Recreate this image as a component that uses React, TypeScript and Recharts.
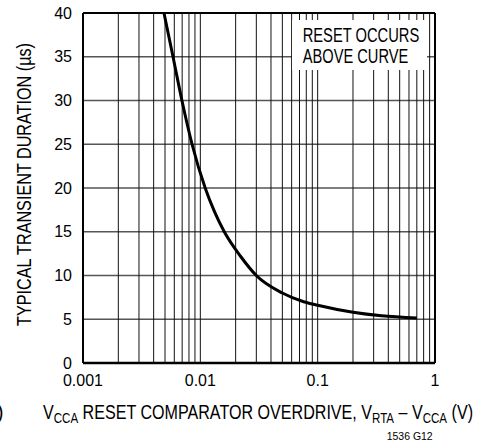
import React from "react";
import {
  LineChart,
  Line,
  XAxis,
  YAxis,
  CartesianGrid,
  ReferenceLine,
} from "recharts";

/* ---------- data ---------- */

const overdrive = [0.0049, 0.00585, 0.00697, 0.0085, 0.011, 0.0132, 0.016, 0.022, 0.03, 0.05, 0.076, 0.1, 0.2, 0.35, 0.7];
const duration = [40, 35, 30, 25, 20, 17.3, 15, 12.2, 10, 8.0, 7.0, 6.6, 5.8, 5.4, 5.15];

const xDecades = [0.001, 0.01, 0.1, 1];
const xGridTicks = [
  0.001, 0.002, 0.003, 0.004, 0.005, 0.006, 0.007, 0.008, 0.009,
  0.01, 0.02, 0.03, 0.04, 0.05, 0.06, 0.07, 0.08, 0.09,
  0.1, 0.2, 0.3, 0.4, 0.5, 0.6, 0.7, 0.8, 0.9, 1,
];
const yTicks = [0, 5, 10, 15, 20, 25, 30, 35, 40];

const data = overdrive.map((x, i) => ({ x, y: duration[i] }));

const FONT = '"Liberation Sans", Arial, sans-serif';
const tickStyle = { fontSize: 16, fill: "#000", fontFamily: FONT };

export default function App() {
  return (
    <div style={{ position: "absolute", left: 0, top: 0, width: 489, height: 444, background: "#fff" }}>
      <LineChart
        width={489}
        height={444}
        data={data}
        margin={{ top: 13, right: 54, bottom: 0, left: 0 }}
      >
        <CartesianGrid stroke="#555" strokeWidth={1.5} vertical={false} />
        <CartesianGrid stroke="#111" strokeWidth={1} horizontal={false} />
        <XAxis
          dataKey="x"
          type="number"
          scale="log"
          domain={[0.001, 1]}
          ticks={xGridTicks}
          interval={0}
          allowDataOverflow
          height={81}
          tickLine={false}
          tickSize={0}
          tickMargin={12}
          axisLine={{ stroke: "#000", strokeWidth: 2.5 }}
          tick={tickStyle}
          tickFormatter={(v: number) => (xDecades.includes(v) ? String(v) : "")}
        />
        <YAxis
          type="number"
          domain={[0, 40]}
          ticks={yTicks}
          interval={0}
          width={83}
          tickLine={false}
          tickSize={0}
          tickMargin={11}
          axisLine={{ stroke: "#000", strokeWidth: 2 }}
          tick={tickStyle}
        />
        <ReferenceLine y={40} stroke="#000" strokeWidth={2} />
        <ReferenceLine x={1} stroke="#000" strokeWidth={2} />
        <Line
          type="monotone"
          dataKey="y"
          stroke="#000"
          strokeWidth={3}
          dot={false}
          isAnimationActive={false}
        />
      </LineChart>

      {/* titles and note, condensed to the reference widths */}
      <svg
        width={489}
        height={444}
        style={{ position: "absolute", left: 0, top: 0, pointerEvents: "none" }}
        fontFamily={FONT}
        fill="#000"
      >
        <rect x={292} y={20} width={135} height={50} fill="#fff" />
        <text x={302.7} y={41.7} fontSize={20} textLength={116.6} lengthAdjust="spacingAndGlyphs">
          RESET OCCURS
        </text>
        <text x={302.7} y={63} fontSize={20} textLength={105.6} lengthAdjust="spacingAndGlyphs">
          ABOVE CURVE
        </text>

        <text
          x={31}
          y={184.5}
          fontSize={19.5}
          textAnchor="middle"
          transform="rotate(-90 31 184.5)"
          textLength={283}
          lengthAdjust="spacingAndGlyphs"
        >
          TYPICAL TRANSIENT DURATION (µs)
        </text>

        <text x={43} y={419} fontSize={19.5} textLength={430} lengthAdjust="spacingAndGlyphs">
          V<tspan fontSize={14} dy={4}>CCA</tspan>
          <tspan dy={-4}> RESET COMPARATOR OVERDRIVE, V</tspan>
          <tspan fontSize={14} dy={4}>RTA</tspan>
          <tspan dy={-4}> – V</tspan>
          <tspan fontSize={14} dy={4}>CCA</tspan>
          <tspan dy={-4}> (V)</tspan>
        </text>

        <text x={-3} y={419} fontSize={19.5}>)</text>

        <text x={386.7} y={440} fontSize={11} textLength={46} lengthAdjust="spacingAndGlyphs">
          1536 G12
        </text>
      </svg>
    </div>
  );
}
